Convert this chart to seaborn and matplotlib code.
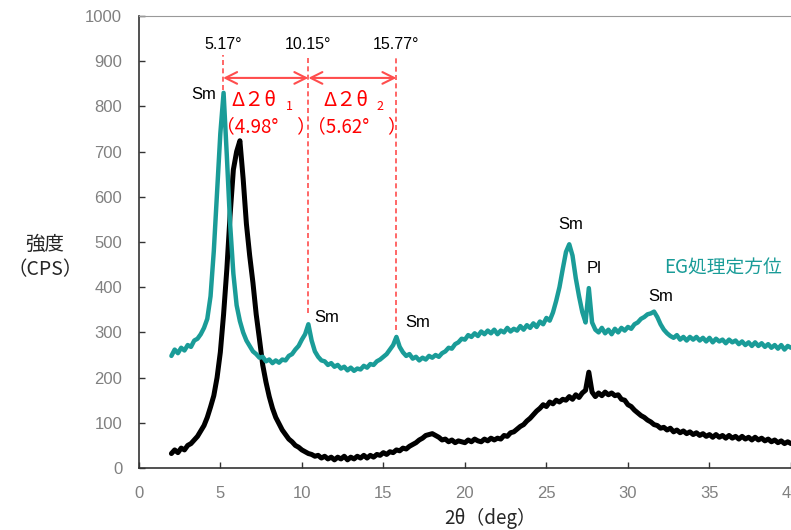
import numpy as np
import pandas as pd
import matplotlib
matplotlib.use("Agg")
import matplotlib.pyplot as plt
import seaborn as sns

# 2θ (deg): 2.0〜40.0, 0.2刻み
two_theta = np.round(np.arange(2.0, 40.01, 0.2), 1)

# EG処理定方位 (teal)
eg_cps = [
    248, 262, 254, 266, 260, 272, 268, 282, 286, 296,
    310, 330, 380, 480, 610, 740, 830, 690, 540, 430,
    360, 325, 300, 282, 270, 258, 252, 244, 246, 236,
    240, 232, 238, 233, 240, 238, 248, 252, 262, 270,
    284, 296, 318, 282, 258, 246, 238, 236, 228, 232,
    224, 228, 220, 224, 216, 222, 215, 220, 218, 226,
    222, 230, 228, 236, 240, 246, 252, 262, 272, 290,
    268, 256, 248, 252, 242, 246, 238, 244, 240, 248,
    244, 250, 246, 254, 258, 266, 264, 274, 278, 286,
    284, 294, 290, 298, 292, 302, 296, 304, 298, 306,
    296, 304, 300, 310, 302, 308, 304, 314, 306, 316,
    310, 320, 312, 324, 318, 332, 326, 344, 370, 400,
    440, 478, 495, 470, 420, 380, 345, 322, 398, 322,
    306, 300, 310, 298, 306, 296, 308, 300, 310, 304,
    312, 308, 318, 322, 330, 334, 340, 342, 346, 334,
    318, 306, 298, 292, 288, 294, 284, 290, 282, 290,
    284, 290, 282, 288, 280, 288, 278, 286, 280, 284,
    276, 284, 278, 282, 274, 280, 272, 278, 270, 278,
    270, 276, 268, 274, 266, 272, 264, 272, 262, 270,
    266,
]

# 未処理 (black)
raw_cps = [
    32, 40, 34, 44, 40, 50, 54, 62, 70, 82,
    94, 112, 135, 160, 200, 256, 340, 440, 560, 660,
    700, 724, 640, 540, 470, 410, 340, 285, 228, 190,
    158, 132, 112, 98, 84, 74, 64, 58, 50, 46,
    40, 36, 32, 30, 26, 28, 22, 26, 20, 24,
    18, 24, 20, 26, 18, 24, 20, 26, 22, 28,
    22, 28, 24, 30, 28, 34, 30, 36, 34, 40,
    38, 44, 42, 48, 52, 56, 62, 66, 72, 74,
    76, 72, 68, 62, 64, 58, 62, 56, 60, 58,
    56, 62, 58, 64, 60, 58, 64, 60, 66, 62,
    66, 64, 72, 70, 78, 80, 86, 92, 96, 104,
    110, 118, 126, 132, 140, 136, 146, 142, 150, 146,
    152, 150, 158, 152, 162, 156, 166, 172, 212, 168,
    158, 166, 160, 168, 162, 166, 160, 162, 152, 150,
    140, 136, 128, 122, 116, 112, 106, 102, 96, 94,
    88, 90, 84, 88, 80, 84, 78, 82, 76, 80,
    74, 78, 72, 76, 70, 74, 68, 74, 68, 72,
    66, 72, 66, 70, 64, 70, 64, 68, 62, 68,
    62, 66, 60, 64, 58, 62, 56, 60, 54, 58,
    54,
]

# ピーク位置 (deg) と間隔ラベル
peak_pos = [5.17, 10.4, 15.8]
peak_labels = ["5.17°", "10.15°", "15.77°"]
line_bottom = [836, 343, 305]
delta_labels = ["Δ２θ", "Δ２θ"]
delta_subs = ["1", "2"]
delta_values = ["（4.98°\u3000）", "（5.62°\u3000）"]

# 鉱物ラベル
mineral_names = ["Sm", "Sm", "Sm", "Sm", "Pl", "Sm"]
mineral_x = [4.0, 11.5, 17.1, 26.5, 27.9, 32.0]
mineral_y = [827, 332, 321, 538, 442, 380]

teal = "#1a9c98"
red_line = "#ff4d4d"
jp = ["Noto Sans CJK JP", "DejaVu Sans"]

df = pd.DataFrame({
    "two_theta": np.concatenate([two_theta, two_theta]),
    "cps": eg_cps + raw_cps,
    "sample": ["EG"] * len(eg_cps) + ["raw"] * len(raw_cps),
})

sns.set_theme(style="ticks")
plt.rcParams["font.family"] = jp

fig = plt.figure(figsize=(7.91, 5.30), dpi=100)
ax = fig.add_axes([138.8 / 791, 1 - 468 / 530, 1 - 138.8 / 791, 452 / 530])

sns.lineplot(data=df[df["sample"] == "raw"], x="two_theta", y="cps", color="black",
             lw=3.6, estimator=None, sort=False, ax=ax)
sns.lineplot(data=df[df["sample"] == "EG"], x="two_theta", y="cps", color=teal,
             lw=3.2, estimator=None, sort=False, ax=ax)

ax.set_xlim(0, 40)
ax.set_ylim(0, 1000)
ax.set_xticks(range(0, 41, 5))
ax.set_yticks(range(0, 1001, 100))
ax.set_xlabel("")
ax.set_ylabel("")
ax.tick_params(direction="in", length=4, width=1, colors="#333333", labelcolor="#808080",
               labelsize=12)
ax.tick_params(axis="y", pad=12)
ax.tick_params(axis="x", pad=13)
for lab in ax.get_xticklabels() + ax.get_yticklabels():
    lab.set_family("Liberation Sans")
for side in ["left", "bottom"]:
    ax.spines[side].set_color("#333333")
    ax.spines[side].set_linewidth(1.2)
ax.spines["top"].set_color("#999999")
ax.spines["top"].set_linewidth(0.8)
ax.spines["right"].set_visible(False)

# 赤い破線と矢印
for xp, lab, yb in zip(peak_pos, peak_labels, line_bottom):
    ax.plot([xp, xp], [yb, 914], color=red_line, lw=1.2, ls=(0, (3, 2)))
    ax.text(xp, 936, lab, ha="center", va="center", fontsize=11.5,
            family="Liberation Sans", color="black")
for x0, x1 in zip(peak_pos[:-1], peak_pos[1:]):
    ax.annotate("", xy=(x1, 863), xytext=(x0, 863),
                arrowprops=dict(arrowstyle="<->,head_length=0.7,head_width=0.35",
                                color=red_line, lw=1.5, shrinkA=0, shrinkB=0))

delta_x = [5.7, 11.3]
sub_x = [9.0, 14.6]
value_x = [7.8, 13.35]
for dx, sx, vx, dl, sl, vl in zip(delta_x, sub_x, value_x, delta_labels, delta_subs, delta_values):
    ax.text(dx, 814, dl, ha="left", va="center", fontsize=14.5, color="red")
    ax.text(sx, 800, sl, ha="left", va="center", fontsize=9, color="red")
    ax.text(vx, 754, vl, ha="center", va="center", fontsize=13.5, color="red")

for name, mx, my in zip(mineral_names, mineral_x, mineral_y):
    ax.text(mx, my, name, ha="center", va="center", fontsize=12,
            family="Liberation Sans", color="black")

ax.text(35.8, 442, "EG処理定方位", ha="center", va="center", fontsize=13.5, color=teal)

# 軸ラベル
fig.text(45 / 791, 1 - 257 / 530, "強度\n（CPS）", ha="center", va="center",
         fontsize=14, linespacing=1.25)
fig.text(490 / 791, 1 - 518 / 530, "2θ（deg）", ha="center", va="center", fontsize=13.5)

plt.savefig("out.png", dpi=100)
